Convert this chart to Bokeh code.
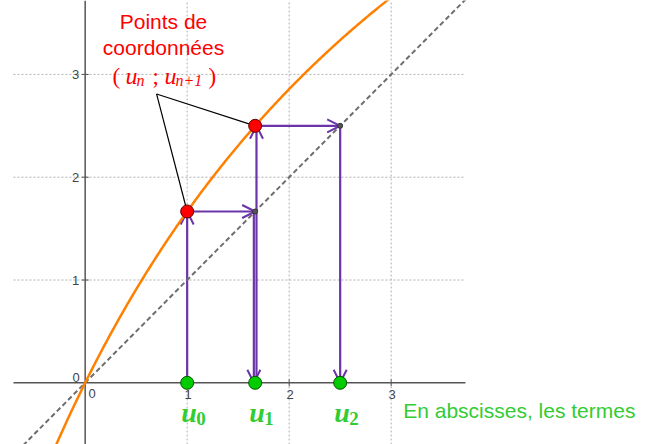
import numpy as np
from bokeh.plotting import figure
from bokeh.models import Range1d, Arrow, OpenHead
from bokeh.core.properties import value
from bokeh.embed import file_html
from bokeh.resources import INLINE

# Function iterated: u(n+1) = f(u(n))
def f(x):
    return 10 * x / (x + 5)

# Sequence terms
u_terms = [1.0, 5 / 3, 2.5]
u_names = ["u", "u", "u"]
u_subs = ["0", "1", "2"]

# Grid / tick values
grid_ticks = [1, 2, 3]
tick_labels = ["1", "2", "3"]

# View window (data units)
X_MIN, X_MAX = -0.830, 5.562
Y_MIN, Y_MAX = -0.600, 3.719
AXIS_X_LEFT, AXIS_X_RIGHT = -0.703, 3.728

# Callout anchors
CALLOUT_VERTEX = (0.70, 2.81)
CALLOUT_TEXT = (0.768, 3.515)
LEGEND_TEXT = (3.118, -0.27)

PURPLE = "#6B34A8"
ORANGE = "#FF8000"
RED = "#FF0000"
GREEN_TXT = "#33CC33"
GREY = "#444444"
SANS = "Liberation Sans"
SERIF = "Liberation Serif"
GAP = 0.013  # separation between the two overlapping verticals at u1

p = figure(width=652, height=444, output_backend="svg", toolbar_location=None,
           x_range=Range1d(X_MIN, X_MAX), y_range=Range1d(Y_MIN, Y_MAX),
           min_border=0, outline_line_color=None)
p.xaxis.visible = False
p.yaxis.visible = False
p.grid.visible = False
p.background_fill_color = "white"
p.border_fill_color = "white"

# dotted grid
n = len(grid_ticks)
p.segment(x0=[AXIS_X_LEFT] * n, y0=grid_ticks, x1=[AXIS_X_RIGHT] * n, y1=grid_ticks,
          line_color="#b0b0b0", line_dash="2 2", line_width=1, level="image")
p.segment(x0=grid_ticks, y0=[Y_MIN] * n, x1=grid_ticks, y1=[Y_MAX] * n,
          line_color="#b0b0b0", line_dash="2 2", line_width=1, level="image")

# axes through the origin
p.segment(x0=[AXIS_X_LEFT, 0], y0=[0, Y_MIN], x1=[AXIS_X_RIGHT, 0], y1=[0, Y_MAX],
          line_color="#555555", line_width=1.5, level="image")
p.scatter(x=grid_ticks, y=[0] * n, marker="dash", angle=np.pi / 2, size=7,
          line_color="#555555", line_width=1, level="image")
p.scatter(x=[0] * n, y=grid_ticks, marker="dash", size=7,
          line_color="#555555", line_width=1, level="image")

# tick labels
p.text(x=grid_ticks, y=[0] * n, text=tick_labels, x_offset=1, y_offset=12,
       text_align="center", text_baseline="middle", text_font=value(SANS),
       text_font_size="13px", text_color=GREY)
p.text(x=[0] * n, y=grid_ticks, text=tick_labels, x_offset=-6, y_offset=0,
       text_align="right", text_baseline="middle", text_font=value(SANS),
       text_font_size="13px", text_color=GREY)
p.text(x=[0, 0], y=[0, 0], text=["0", "0"], x_offset=[-9, 7], y_offset=[-5, 10.5],
       text_align="center", text_baseline="middle", text_font=value(SANS),
       text_font_size="13px", text_color=GREY)

# y = x
p.line(x=[X_MIN, X_MAX], y=[X_MIN, X_MAX], line_color="#6e6e6e", line_width=2,
       line_dash="5 3")

# curve y = f(x)
xs = np.linspace(-0.45, 3.2, 300)
p.line(x=xs, y=f(xs), line_color=ORANGE, line_width=2.5)

# cobweb arrows
u0, u1, u2 = u_terms
arrows = [
    (u0, 0, u0, u1),
    (u0, u1, u1, u1),
    (u1 - GAP, u1, u1 - GAP, 0),
    (u1 + GAP, 0, u1 + GAP, u2),
    (u1, u2, u2, u2),
    (u2, u2, u2, 0),
]
for xa, ya, xb, yb in arrows:
    p.add_layout(Arrow(x_start=xa, y_start=ya, x_end=xb, y_end=yb,
                       line_color=PURPLE, line_width=2.2, level="underlay",
                       end=OpenHead(size=13, line_color=PURPLE, line_width=2)))

# callout lines
vx, vy = CALLOUT_VERTEX
p.segment(x0=[vx, vx], y0=[vy, vy], x1=[u0, u1], y1=[u1, u2],
          line_color="black", line_width=1.2)

# points on the diagonal
p.scatter(x=[u1, u2], y=[u1, u2], size=5, fill_color="#555555", line_color="#333333")

# points (u_n ; u_{n+1})
p.scatter(x=[u0, u1], y=[u1, u2], size=13, fill_color=RED, line_color="#600000",
          line_width=1)

# terms on the x axis
p.scatter(x=u_terms, y=[0, 0, 0], size=13, fill_color="#00CC00", line_color="#005500",
          line_width=1)

# term labels u_0, u_1, u_2
p.text(x=u_terms, y=[0, 0, 0], text=u_names, x_offset=-6, y_offset=30,
       text_align="left", text_baseline="alphabetic", text_font=value(SERIF),
       text_font_style="bold italic", text_font_size="28px", text_color=GREEN_TXT)
p.text(x=u_terms, y=[0, 0, 0], text=u_subs, x_offset=9, y_offset=36,
       text_align="left", text_baseline="alphabetic", text_font=value(SERIF),
       text_font_style="bold", text_font_size="19px", text_color=GREEN_TXT)

p.text(x=[LEGEND_TEXT[0]], y=[LEGEND_TEXT[1]], text=["En abscisses, les termes"],
       text_align="left", text_baseline="middle", text_font=value(SANS),
       text_font_size="21px", text_color=GREEN_TXT)

# red callout text
cx, cy = CALLOUT_TEXT
p.text(x=[cx, cx], y=[cy, cy], text=["Points de", "coordonnées"], y_offset=[0, 26],
       text_align="center", text_baseline="middle", text_font=value(SANS),
       text_font_size="21px", text_color=RED)

math_parts = [
    ("(", -51, 55, "normal", "23px"),
    ("u", -38, 55, "italic", "24px"),
    ("n", -27, 59, "italic", "16px"),
    (";", -11, 55, "normal", "23px"),
    ("u", 1, 55, "italic", "24px"),
    ("n+1", 12, 59, "italic", "16px"),
    (")", 45, 55, "normal", "23px"),
]
for txt, dx, dy, style, size in math_parts:
    p.text(x=[cx], y=[cy], text=[txt], x_offset=dx, y_offset=dy,
           text_align="left", text_baseline="alphabetic", text_font=value(SERIF),
           text_font_style=style, text_font_size=size, text_color=RED)

open("out.html", "w").write(file_html(p, INLINE))
